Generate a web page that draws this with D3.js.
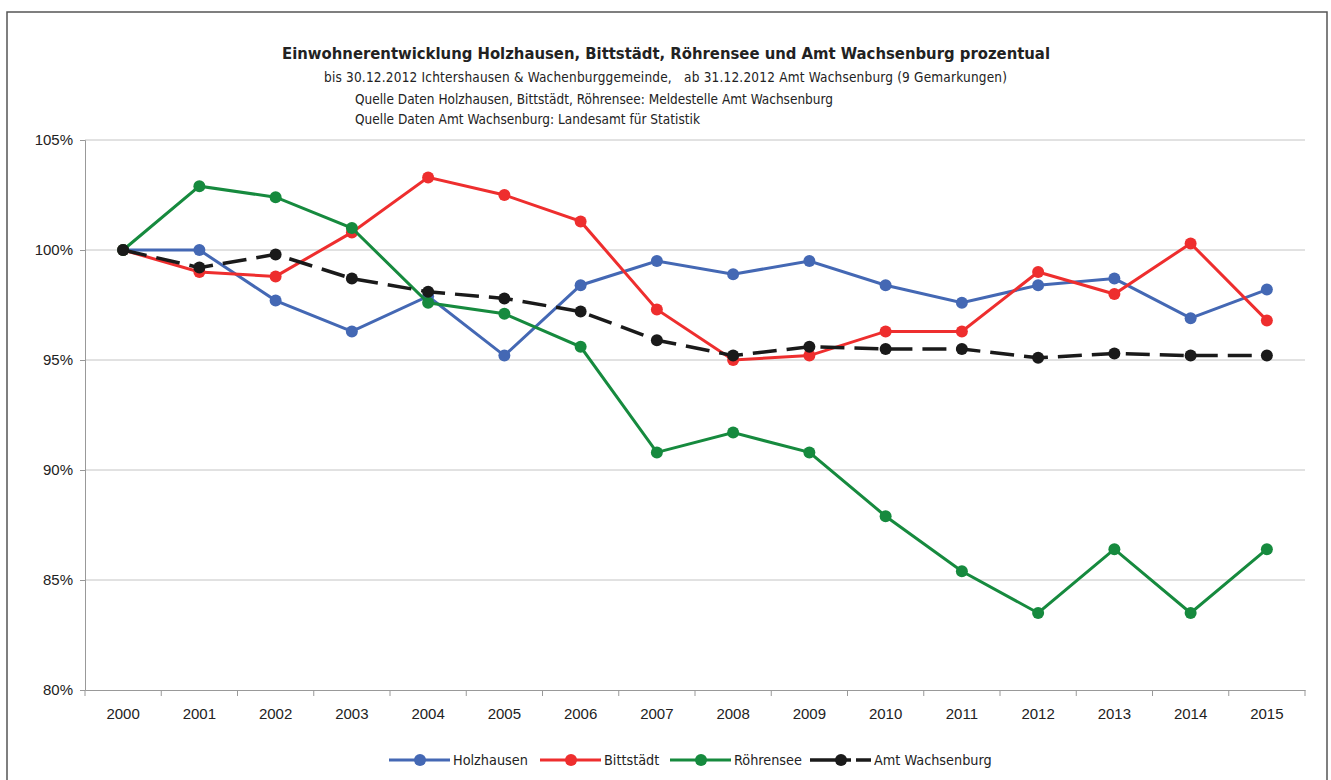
<!doctype html>
<html>
<head>
<meta charset="UTF-8">
<title>Einwohnerentwicklung</title>
<script src="https://cdn.jsdelivr.net/npm/d3@7"></script>
<style>
  body { margin: 0; background: #fff; }
  .axis text { font-family: "Liberation Sans", Arial, sans-serif; font-size: 15px; fill: #222; }
  .cond { font-family: "DejaVu Sans Condensed", "Liberation Sans Narrow", sans-serif; fill: #222; }
</style>
</head>
<body>
<svg width="1331" height="780"></svg>
<script>
// Daten (Prozent, 2000 = 100%)
var years = ["2000","2001","2002","2003","2004","2005","2006","2007","2008","2009","2010","2011","2012","2013","2014","2015"];
var holzhausen = [100, 100, 97.7, 96.3, 97.9, 95.2, 98.4, 99.5, 98.9, 99.5, 98.4, 97.6, 98.4, 98.7, 96.9, 98.2];
var bittstaedt = [100, 99.0, 98.8, 100.8, 103.3, 102.5, 101.3, 97.3, 95.0, 95.2, 96.3, 96.3, 99.0, 98.0, 100.3, 96.8];
var roehrensee = [100, 102.9, 102.4, 101.0, 97.6, 97.1, 95.6, 90.8, 91.7, 90.8, 87.9, 85.4, 83.5, 86.4, 83.5, 86.4];
var wachsenburg = [100, 99.2, 99.8, 98.7, 98.1, 97.8, 97.2, 95.9, 95.2, 95.6, 95.5, 95.5, 95.1, 95.3, 95.2, 95.2];
var yTicks = [80, 85, 90, 95, 100, 105];

var series = [
  {name: "Holzhausen", values: holzhausen, color: "#4468b4", dash: null},
  {name: "Bittstädt", values: bittstaedt, color: "#ee2e2e", dash: null},
  {name: "Röhrensee", values: roehrensee, color: "#168a3e", dash: null},
  {name: "Amt Wachsenburg", values: wachsenburg, color: "#1a1a1a", dash: "24,10"}
];

var svg = d3.select("svg");

// Rahmen
svg.append("rect")
  .attr("x", 7).attr("y", 12).attr("width", 1320).attr("height", 790)
  .attr("fill", "none").attr("stroke", "#555").attr("stroke-width", 1.5);

var x = d3.scaleBand().domain(years).range([85, 1305]);
var y = d3.scaleLinear().domain([80, 105]).range([690, 140]);
function cx(i) { return x(years[i]) + x.bandwidth() / 2; }

// Gitterlinien
svg.append("g")
  .selectAll("line").data(yTicks.slice(1)).enter().append("line")
  .attr("x1", 85).attr("x2", 1305)
  .attr("y1", function(d){ return y(d); }).attr("y2", function(d){ return y(d); })
  .attr("stroke", "#c4c4c4").attr("stroke-width", 1);

// Achsen
var yAxis = svg.append("g").attr("class", "axis")
  .attr("transform", "translate(85,0)")
  .call(d3.axisLeft(y).tickValues(yTicks).tickSize(5).tickPadding(7).tickFormat(function(d){ return d + "%"; }));
yAxis.selectAll("path, line").attr("stroke", "#999");

var xAxis = svg.append("g").attr("class", "axis")
  .attr("transform", "translate(0,690)")
  .call(d3.axisBottom(x).tickSize(0).tickPadding(18));
xAxis.select("path").attr("stroke", "#999");
xAxis.append("g").selectAll("line").data(d3.range(years.length + 1)).enter().append("line")
  .attr("x1", function(i){ return 85 + i * x.bandwidth(); })
  .attr("x2", function(i){ return 85 + i * x.bandwidth(); })
  .attr("y1", 0).attr("y2", 6).attr("stroke", "#999");

// Linien
var line = d3.line()
  .x(function(d, i){ return cx(i); })
  .y(function(d){ return y(d); });

series.forEach(function(s) {
  var g = svg.append("g");
  g.append("path")
    .datum(s.values)
    .attr("d", line)
    .attr("fill", "none")
    .attr("stroke", s.color)
    .attr("stroke-width", s.dash ? 3.5 : 3)
    .attr("stroke-dasharray", s.dash);
  g.selectAll("circle").data(s.values).enter().append("circle")
    .attr("cx", function(d, i){ return cx(i); })
    .attr("cy", function(d){ return y(d); })
    .attr("r", 6)
    .attr("fill", s.color);
});

// Titel
svg.append("text").attr("class", "cond")
  .attr("x", 666).attr("y", 59).attr("text-anchor", "middle")
  .style("font-size", "16.5px").style("font-weight", "bold")
  .text("Einwohnerentwicklung Holzhausen, Bittstädt, Röhrensee und Amt Wachsenburg prozentual");

var sub = [
  {t: "bis 30.12.2012 Ichtershausen & Wachenburggemeinde,   ab 31.12.2012 Amt Wachsenburg (9 Gemarkungen)", x: 324, y: 82, w: 683},
  {t: "Quelle Daten Holzhausen, Bittstädt, Röhrensee: Meldestelle Amt Wachsenburg", x: 355, y: 104, w: 478},
  {t: "Quelle Daten Amt Wachsenburg: Landesamt für Statistik", x: 355, y: 124, w: 345}
];
svg.selectAll("text.sub").data(sub).enter().append("text")
  .attr("class", "cond sub")
  .attr("x", function(d){ return d.x; }).attr("y", function(d){ return d.y; })
  .style("font-size", "13.5px")
  .attr("xml:space", "preserve")
  .attr("textLength", function(d){ return d.w; })
  .attr("lengthAdjust", "spacing")
  .text(function(d){ return d.t; });

// Legende
var legX = [389, 540, 670, 810];
var leg = svg.append("g");
series.forEach(function(s, i) {
  var g = leg.append("g").attr("transform", "translate(" + legX[i] + ",760)");
  if (s.dash) {
    g.append("line").attr("x1", 0).attr("x2", 41).attr("y1", 0).attr("y2", 0)
      .attr("stroke", s.color).attr("stroke-width", 3.5);
    g.append("line").attr("x1", 46).attr("x2", 61).attr("y1", 0).attr("y2", 0)
      .attr("stroke", s.color).attr("stroke-width", 3.5);
  } else {
    g.append("line").attr("x1", 0).attr("x2", 61).attr("y1", 0).attr("y2", 0)
      .attr("stroke", s.color).attr("stroke-width", 3);
  }
  g.append("circle").attr("cx", 31).attr("cy", 0).attr("r", 6).attr("fill", s.color);
  g.append("text").attr("class", "cond").attr("x", 64).attr("y", 5)
    .style("font-size", "14.3px").text(s.name);
});
</script>
</body>
</html>
